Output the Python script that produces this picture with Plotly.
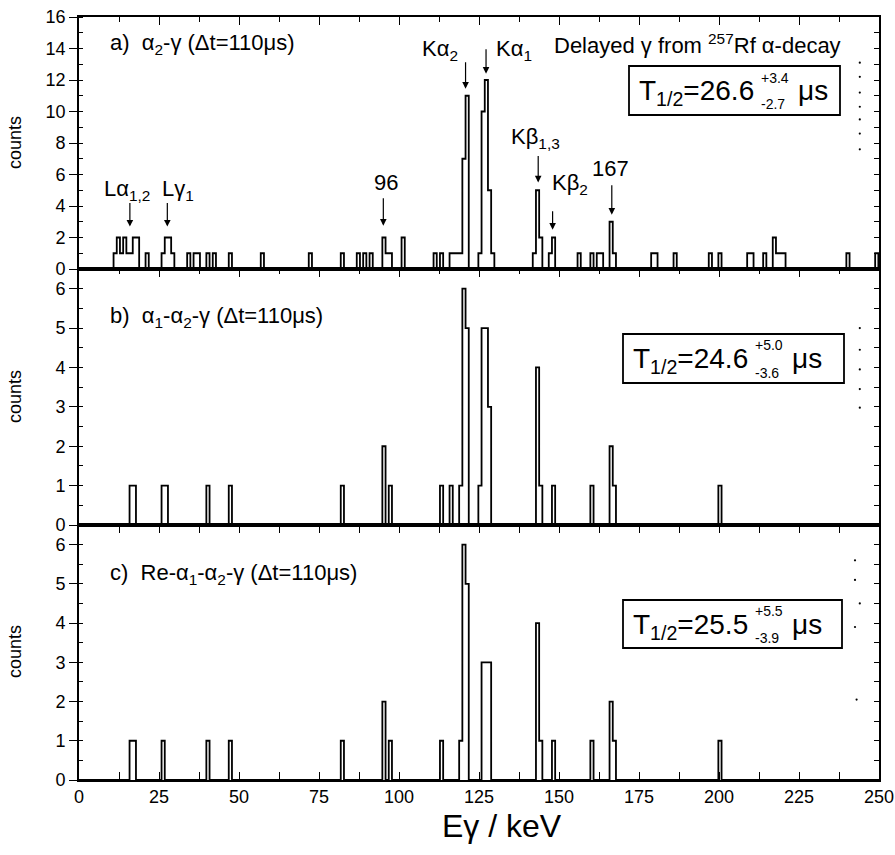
import plotly.graph_objects as go

# ---------------- data (bin start energy in keV, counts per 1-keV bin) ----------------
BIN_W = 1.0
a_start = [10.8, 11.8, 12.8, 13.8, 14.8, 15.8, 16.8, 17.8, 20.8, 25.8, 26.8, 27.8, 28.8,
           33.8, 35.8, 36.8, 39.8, 41.8, 46.8, 56.8, 71.8, 81.8, 86.8, 88.8, 90.8,
           94.8, 95.8, 96.8, 100.8, 110.8, 112.8, 115.8, 116.8, 117.8, 118.8, 119.8, 120.8,
           124.8, 125.8, 126.8, 127.8, 128.8, 141.8, 142.8, 143.8, 146.8, 147.8, 155.8,
           159.8, 161.8, 162.8, 165.8, 166.8, 178.8, 179.8, 185.8, 196.8, 199.8, 208.8,
           209.8, 213.8, 216.8, 217.8, 218.8, 219.8, 239.8, 248.8]
a_counts = [1, 2, 1, 2, 1, 1, 2, 2, 1, 1, 2, 2, 1,
            1, 1, 1, 1, 1, 1, 1, 1, 1, 1, 1, 1,
            2, 1, 1, 2, 1, 1, 1, 1, 1, 1, 7, 11,
            1, 10, 12, 5, 1, 1, 5, 2, 1, 2, 1,
            1, 1, 1, 3, 1, 1, 1, 1, 1, 1, 1,
            1, 1, 2, 1, 1, 1, 1, 1]

b_start = [15.8, 16.8, 25.8, 26.8, 39.8, 46.8, 81.8, 94.8, 96.8, 112.8, 115.8, 118.8,
           119.8, 120.8, 124.8, 125.8, 126.8, 127.8, 142.8, 143.8, 147.8, 159.8, 165.8,
           166.8, 199.8]
b_counts = [1, 1, 1, 1, 1, 1, 1, 2, 1, 1, 1, 1,
            6, 5, 1, 5, 5, 3, 4, 1, 1, 1, 2,
            1, 1]

c_start = [15.8, 16.8, 25.8, 39.8, 46.8, 81.8, 94.8, 96.8, 112.8, 118.8, 119.8, 120.8,
           125.8, 126.8, 127.8, 142.8, 143.8, 147.8, 159.8, 165.8, 166.8, 199.8]
c_counts = [1, 1, 1, 1, 1, 1, 2, 1, 1, 1, 6, 5,
            3, 3, 3, 4, 1, 1, 1, 2, 1, 1]

# peak labels (panel a): text, arrow energy (keV), arrow tip (counts)
peak_text = ["Lα<sub>1,2</sub>", "Lγ<sub>1</sub>", "96", "Kα<sub>2</sub>", "Kα<sub>1</sub>",
             "Kβ<sub>1,3</sub>", "Kβ<sub>2</sub>", "167"]
arrow_keV = [15.9, 27.6, 95.1, 120.8, 127.2, 143.5, 148.0, 166.5]
arrow_tip = [2.7, 2.7, 2.75, 11.45, 12.4, 5.5, 2.5, 3.45]

panel_text = ["a)  α<sub>2</sub>-γ (Δt=110μs)",
              "b)  α<sub>1</sub>-α<sub>2</sub>-γ (Δt=110μs)",
              "c)  Re-α<sub>1</sub>-α<sub>2</sub>-γ (Δt=110μs)"]
half_life = ["26.6", "24.6", "25.5"]
err_plus = ["+3.4", "+5.0", "+5.5"]
err_minus = ["-2.7", "-3.6", "-3.9"]

# stray dots near the right edge (keV, counts)
dots_a_x = [244.0] * 7
dots_a_y = [13.1, 12.2, 11.2, 10.3, 9.5, 8.6, 7.6]
dots_b_x = [244.0] * 5
dots_b_y = [5.0, 4.45, 3.95, 3.45, 2.98]
dots_c_x = [242.5, 242.5, 244.0, 242.5, 243.0]
dots_c_y = [5.6, 5.1, 4.5, 3.9, 2.05]

# ---------------- helpers ----------------
W, H = 895, 855
L, R, T, B = 79, 16, 17, 75
PW, PH = W - L - R, H - T - B


def px(x):
    return (x - L) / PW


def py(y):
    return (H - B - y) / PH


def step_xy(starts, counts):
    vals = dict(zip([round(s, 2) for s in starts], counts))
    edges = [0.0]
    e = 0.8 - BIN_W
    while e + BIN_W < 250.0:
        e = round(e + BIN_W, 2)
        edges.append(e)
    edges.append(250.0)
    ys = []
    for i in range(len(edges) - 1):
        ys.append(vals.get(round(edges[i], 2), 0))
    ys.append(ys[-1])
    return edges, ys


FONT = "Arial, Liberation Sans, sans-serif"
fig = go.Figure()

panels = [("x", "y", a_start, a_counts), ("x2", "y2", b_start, b_counts), ("x3", "y3", c_start, c_counts)]
for xa, ya, s, c in panels:
    xs, ys = step_xy(s, c)
    fig.add_trace(go.Scatter(x=xs, y=ys, mode="lines", xaxis=xa, yaxis=ya,
                             line=dict(color="black", width=1.8, shape="hv"),
                             showlegend=False, hoverinfo="skip"))

for xa, ya, dx, dy in [("x", "y", dots_a_x, dots_a_y), ("x2", "y2", dots_b_x, dots_b_y),
                       ("x3", "y3", dots_c_x, dots_c_y)]:
    fig.add_trace(go.Scatter(x=dx, y=dy, mode="markers", xaxis=xa, yaxis=ya,
                             marker=dict(color="black", size=2.2), showlegend=False, hoverinfo="skip"))

# dummy traces for right-side tick axes
for xa, ya in [("x", "y4"), ("x2", "y5"), ("x3", "y6")]:
    fig.add_trace(go.Scatter(x=[None], y=[None], xaxis=xa, yaxis=ya, showlegend=False, hoverinfo="skip"))

domains = [[py(269), 1.0], [py(525), py(269)], [0.0, py(525)]]
yranges = [[0, 16], [0, 6.5], [0, 6.5]]
ydt = [2, 1, 1]
ymin = [1, 0.5, 0.5]

xbase = dict(range=[0, 250], showline=True, linecolor="black", linewidth=1.6, showgrid=False,
             zeroline=False, tick0=0, dtick=25, ticks="inside", ticklen=8, tickwidth=1.2,
             tickcolor="black", automargin=False,
             minor=dict(tick0=0, dtick=12.5, ticks="inside", ticklen=5, tickwidth=1.2, tickcolor="black"),
             tickfont=dict(family=FONT, size=18, color="black"))

layout = dict(width=W, height=H, margin=dict(l=L, r=R, t=T, b=B, autoexpand=False),
              paper_bgcolor="white", plot_bgcolor="white", showlegend=False)

layout["xaxis"] = dict(xbase, anchor="y", side="top", mirror=True, showticklabels=False)
layout["xaxis2"] = dict(xbase, anchor="y2", side="top", mirror=True, showticklabels=False, matches="x")
layout["xaxis3"] = dict(xbase, anchor="y3", side="bottom", mirror="allticks", showticklabels=True,
                        matches="x")

for i in range(3):
    n = "" if i == 0 else str(i + 1)
    layout["yaxis" + n] = dict(domain=domains[i], range=yranges[i], anchor="x" + n, showline=True,
                               linecolor="black", linewidth=1.6, mirror=True, showgrid=False,
                               zeroline=False, tick0=0, dtick=ydt[i], ticks="outside", ticklen=8,
                               tickwidth=1.2, tickcolor="black", automargin=False,
                               minor=dict(tick0=0, dtick=ymin[i], ticks="inside", ticklen=4,
                                          tickwidth=1.2, tickcolor="black"),
                               tickfont=dict(family=FONT, size=18, color="black"))
    layout["yaxis" + str(i + 4)] = dict(overlaying="y" + n, anchor="x" + n, side="right",
                                        range=yranges[i], showline=False, showgrid=False,
                                        zeroline=False, tick0=0, dtick=ymin[i], ticks="inside",
                                        ticklen=5, tickwidth=1.2, tickcolor="black",
                                        showticklabels=False, automargin=False)

fig.update_layout(**layout)

ann = []
# peak labels and arrows (panel a)
label_px = [(102, 190), (160, 190), (386, 183), (420, 50), (494, 50), (509, 138), (550, 184), (590, 168)]
label_anchor = ["left", "left", "center", "left", "left", "left", "left", "left"]
arrow_len = [25, 25, 29, 28, 26, 28, 20, 31]
for t, (lx, ly), xa in zip(peak_text, label_px, label_anchor):
    ann.append(dict(text=t, x=px(lx), y=py(ly), xref="paper", yref="paper", xanchor=xa,
                    yanchor="middle", showarrow=False, font=dict(family=FONT, size=22, color="black")))
for kx, ky, al in zip(arrow_keV, arrow_tip, arrow_len):
    ann.append(dict(text="", x=kx, y=ky, xref="x", yref="y", ax=0, ay=-al, showarrow=True,
                    arrowhead=2, arrowsize=1.1, arrowwidth=1.2, arrowcolor="black"))

ann.append(dict(text="Delayed γ from <sup>257</sup>Rf α-decay", x=px(552), y=py(44), xref="paper",
                yref="paper", xanchor="left", yanchor="middle", showarrow=False,
                font=dict(family=FONT, size=22, color="black")))

panel_label_y = [44, 317, 574]
for t, yy in zip(panel_text, panel_label_y):
    ann.append(dict(text=t, x=px(108), y=py(yy), xref="paper", yref="paper", xanchor="left",
                    yanchor="middle", showarrow=False, font=dict(family=FONT, size=22, color="black")))

# half-life boxes
box_px = [(629, 66, 840, 115), (623, 334, 844, 383), (623, 600, 842, 648)]
shapes = []
for (x0, y0, x1, y1), hl, ep, em in zip(box_px, half_life, err_plus, err_minus):
    shapes.append(dict(type="rect", xref="paper", yref="paper", x0=px(x0), x1=px(x1), y0=py(y1),
                       y1=py(y0), line=dict(color="black", width=1.8), fillcolor="rgba(0,0,0,0)"))
    cy = (y0 + y1) / 2
    ann.append(dict(text="T<sub>1/2</sub>=" + hl, x=px(x0 + 127), y=py(cy + 2), xref="paper",
                    yref="paper", xanchor="right", yanchor="middle", showarrow=False,
                    font=dict(family=FONT, size=28, color="black")))
    ann.append(dict(text=ep, x=px(x0 + 130), y=py(cy - 13), xref="paper", yref="paper",
                    xanchor="left", yanchor="middle", showarrow=False,
                    font=dict(family=FONT, size=14, color="black")))
    ann.append(dict(text=em, x=px(x0 + 130), y=py(cy + 14), xref="paper", yref="paper",
                    xanchor="left", yanchor="middle", showarrow=False,
                    font=dict(family=FONT, size=14, color="black")))
    ann.append(dict(text="μs", x=px(x0 + 167), y=py(cy), xref="paper", yref="paper",
                    xanchor="left", yanchor="middle", showarrow=False,
                    font=dict(family=FONT, size=28, color="black")))

# axis titles
for cy in [143, 397, 652]:
    ann.append(dict(text="counts", x=px(15), y=py(cy), xref="paper", yref="paper", xanchor="center",
                    yanchor="middle", textangle=-90, showarrow=False,
                    font=dict(family=FONT, size=18, color="black")))
ann.append(dict(text="Eγ / keV", x=px(502), y=py(826), xref="paper", yref="paper", xanchor="center",
                yanchor="middle", showarrow=False, font=dict(family=FONT, size=32, color="black")))

fig.update_layout(annotations=ann, shapes=shapes)

# remove the default page margin so the 895x855 figure fills the window exactly
page_fix = ("document.documentElement.style.margin='0';document.body.style.margin='0';"
            "document.body.style.overflow='hidden';document.documentElement.style.overflow='hidden';")
fig.write_html("out.html", post_script=page_fix, config={"displayModeBar": False})
